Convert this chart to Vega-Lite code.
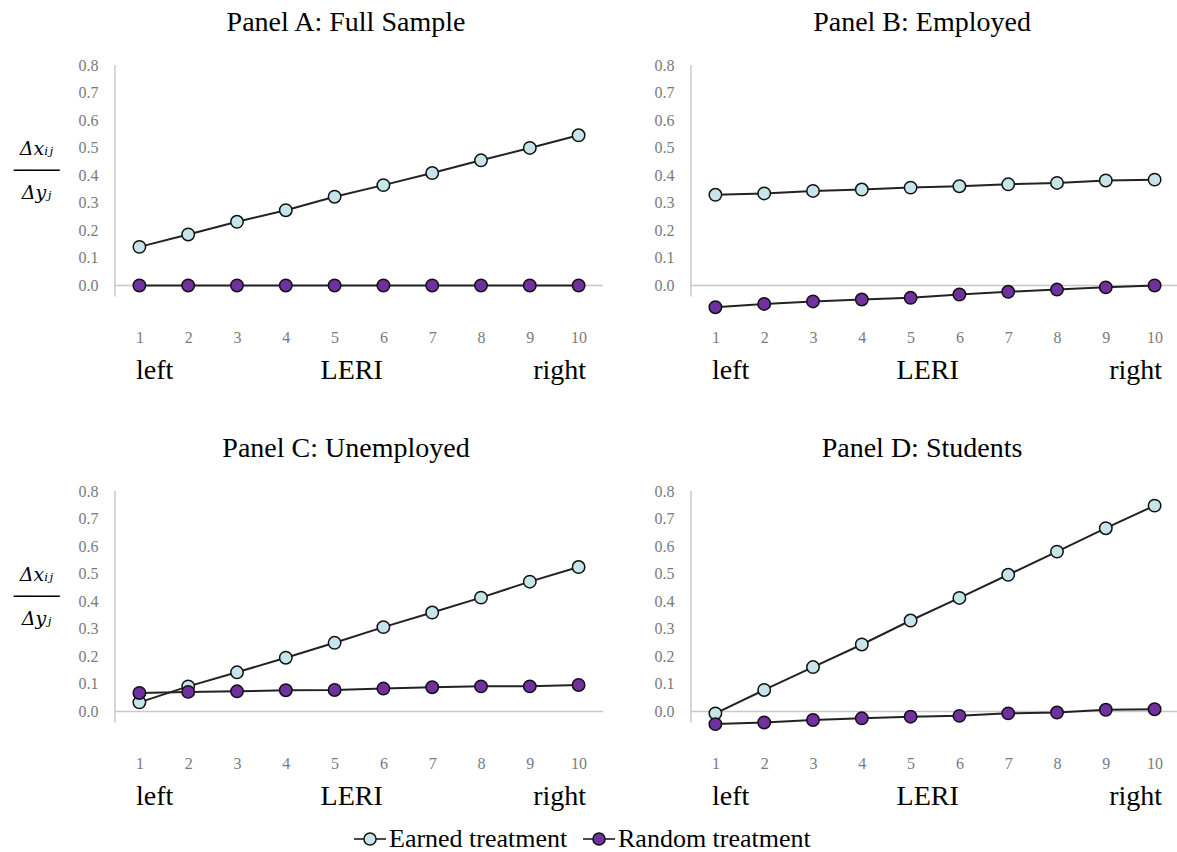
{
  "$schema": "https://vega.github.io/schema/vega-lite/v6.json",
  "padding": {"top": 9, "left": 13, "right": 0, "bottom": 0},
  "background": "white",
  "config": {
    "view": {"stroke": null},
    "font": "Liberation Serif",
    "title": {"font": "Liberation Serif", "fontSize": 28, "fontWeight": "normal", "color": "#000000", "anchor": "middle", "offset": 20, "dx": -13},
    "axis": {"grid": false, "domain": false, "ticks": false, "tickSize": 0, "labelFont": "Liberation Serif", "labelColor": "#7a7a7a", "labelFontSize": 16, "labelOverlap": false},
    "axisY": {"tickCount": 10, "labelExpr": "datum.value < -0.01 ? '' : format(datum.value, '.1f')"},
    "legend": {
      "orient": "none", "legendX": 238, "legendY": 757, "direction": "horizontal",
      "labelFont": "Liberation Serif", "labelFontSize": 26, "labelColor": "#000000", "labelOffset": 2, "labelLimit": 0,
      "symbolType": "M-1,0H-0.38M0.38,0H1M-0.38,0A0.38,0.38,0,1,1,0.38,0A0.38,0.38,0,1,1,-0.38,0Z",
      "symbolSize": 1024, "symbolStrokeColor": "#111111", "symbolStrokeWidth": 1.5, "symbolOpacity": 1,
      "columnPadding": 12, "title": null
    }
  },
  "datasets": {
    "d": [
      {"panel": "A", "series": "Earned treatment", "lev": 1, "val": 0.14},
      {"panel": "A", "series": "Earned treatment", "lev": 2, "val": 0.185},
      {"panel": "A", "series": "Earned treatment", "lev": 3, "val": 0.231},
      {"panel": "A", "series": "Earned treatment", "lev": 4, "val": 0.273},
      {"panel": "A", "series": "Earned treatment", "lev": 5, "val": 0.322},
      {"panel": "A", "series": "Earned treatment", "lev": 6, "val": 0.364},
      {"panel": "A", "series": "Earned treatment", "lev": 7, "val": 0.408},
      {"panel": "A", "series": "Earned treatment", "lev": 8, "val": 0.454},
      {"panel": "A", "series": "Earned treatment", "lev": 9, "val": 0.499},
      {"panel": "A", "series": "Earned treatment", "lev": 10, "val": 0.545},
      {"panel": "A", "series": "Random treatment", "lev": 1, "val": 0.0},
      {"panel": "A", "series": "Random treatment", "lev": 2, "val": 0.0},
      {"panel": "A", "series": "Random treatment", "lev": 3, "val": 0.0},
      {"panel": "A", "series": "Random treatment", "lev": 4, "val": 0.0},
      {"panel": "A", "series": "Random treatment", "lev": 5, "val": 0.0},
      {"panel": "A", "series": "Random treatment", "lev": 6, "val": 0.0},
      {"panel": "A", "series": "Random treatment", "lev": 7, "val": 0.0},
      {"panel": "A", "series": "Random treatment", "lev": 8, "val": 0.0},
      {"panel": "A", "series": "Random treatment", "lev": 9, "val": 0.0},
      {"panel": "A", "series": "Random treatment", "lev": 10, "val": 0.0},
      {"panel": "B", "series": "Earned treatment", "lev": 1, "val": 0.329},
      {"panel": "B", "series": "Earned treatment", "lev": 2, "val": 0.334},
      {"panel": "B", "series": "Earned treatment", "lev": 3, "val": 0.343},
      {"panel": "B", "series": "Earned treatment", "lev": 4, "val": 0.348},
      {"panel": "B", "series": "Earned treatment", "lev": 5, "val": 0.355},
      {"panel": "B", "series": "Earned treatment", "lev": 6, "val": 0.36},
      {"panel": "B", "series": "Earned treatment", "lev": 7, "val": 0.367},
      {"panel": "B", "series": "Earned treatment", "lev": 8, "val": 0.372},
      {"panel": "B", "series": "Earned treatment", "lev": 9, "val": 0.381},
      {"panel": "B", "series": "Earned treatment", "lev": 10, "val": 0.384},
      {"panel": "B", "series": "Random treatment", "lev": 1, "val": -0.079},
      {"panel": "B", "series": "Random treatment", "lev": 2, "val": -0.067},
      {"panel": "B", "series": "Random treatment", "lev": 3, "val": -0.058},
      {"panel": "B", "series": "Random treatment", "lev": 4, "val": -0.051},
      {"panel": "B", "series": "Random treatment", "lev": 5, "val": -0.045},
      {"panel": "B", "series": "Random treatment", "lev": 6, "val": -0.033},
      {"panel": "B", "series": "Random treatment", "lev": 7, "val": -0.023},
      {"panel": "B", "series": "Random treatment", "lev": 8, "val": -0.015},
      {"panel": "B", "series": "Random treatment", "lev": 9, "val": -0.007},
      {"panel": "B", "series": "Random treatment", "lev": 10, "val": 0.0},
      {"panel": "C", "series": "Earned treatment", "lev": 1, "val": 0.033},
      {"panel": "C", "series": "Earned treatment", "lev": 2, "val": 0.091},
      {"panel": "C", "series": "Earned treatment", "lev": 3, "val": 0.142},
      {"panel": "C", "series": "Earned treatment", "lev": 4, "val": 0.195},
      {"panel": "C", "series": "Earned treatment", "lev": 5, "val": 0.249},
      {"panel": "C", "series": "Earned treatment", "lev": 6, "val": 0.306},
      {"panel": "C", "series": "Earned treatment", "lev": 7, "val": 0.359},
      {"panel": "C", "series": "Earned treatment", "lev": 8, "val": 0.413},
      {"panel": "C", "series": "Earned treatment", "lev": 9, "val": 0.471},
      {"panel": "C", "series": "Earned treatment", "lev": 10, "val": 0.524},
      {"panel": "C", "series": "Random treatment", "lev": 1, "val": 0.067},
      {"panel": "C", "series": "Random treatment", "lev": 2, "val": 0.071},
      {"panel": "C", "series": "Random treatment", "lev": 3, "val": 0.073},
      {"panel": "C", "series": "Random treatment", "lev": 4, "val": 0.077},
      {"panel": "C", "series": "Random treatment", "lev": 5, "val": 0.078},
      {"panel": "C", "series": "Random treatment", "lev": 6, "val": 0.083},
      {"panel": "C", "series": "Random treatment", "lev": 7, "val": 0.088},
      {"panel": "C", "series": "Random treatment", "lev": 8, "val": 0.091},
      {"panel": "C", "series": "Random treatment", "lev": 9, "val": 0.091},
      {"panel": "C", "series": "Random treatment", "lev": 10, "val": 0.096},
      {"panel": "D", "series": "Earned treatment", "lev": 1, "val": -0.007},
      {"panel": "D", "series": "Earned treatment", "lev": 2, "val": 0.078},
      {"panel": "D", "series": "Earned treatment", "lev": 3, "val": 0.161},
      {"panel": "D", "series": "Earned treatment", "lev": 4, "val": 0.243},
      {"panel": "D", "series": "Earned treatment", "lev": 5, "val": 0.33},
      {"panel": "D", "series": "Earned treatment", "lev": 6, "val": 0.412},
      {"panel": "D", "series": "Earned treatment", "lev": 7, "val": 0.496},
      {"panel": "D", "series": "Earned treatment", "lev": 8, "val": 0.58},
      {"panel": "D", "series": "Earned treatment", "lev": 9, "val": 0.665},
      {"panel": "D", "series": "Earned treatment", "lev": 10, "val": 0.747},
      {"panel": "D", "series": "Random treatment", "lev": 1, "val": -0.046},
      {"panel": "D", "series": "Random treatment", "lev": 2, "val": -0.04},
      {"panel": "D", "series": "Random treatment", "lev": 3, "val": -0.031},
      {"panel": "D", "series": "Random treatment", "lev": 4, "val": -0.025},
      {"panel": "D", "series": "Random treatment", "lev": 5, "val": -0.019},
      {"panel": "D", "series": "Random treatment", "lev": 6, "val": -0.016},
      {"panel": "D", "series": "Random treatment", "lev": 7, "val": -0.007},
      {"panel": "D", "series": "Random treatment", "lev": 8, "val": -0.004},
      {"panel": "D", "series": "Random treatment", "lev": 9, "val": 0.006},
      {"panel": "D", "series": "Random treatment", "lev": 10, "val": 0.008}
    ]
  },
  "resolve": {"scale": {"fill": "shared"}, "legend": {"fill": "shared"}},
  "spacing": 51,
  "vconcat": [
    {
      "spacing": 50,
      "hconcat": [
        {
          "title": "Panel A: Full Sample",
          "width": 488, "height": 248,
          "resolve": {"axis": {"x": "independent"}},
          "layer": [
            {"data": {"values": [{"z": 0}]}, "mark": {"type": "rule", "color": "#c8c8c8", "strokeWidth": 1.5}, "encoding": {"y": {"field": "z", "type": "quantitative", "scale": {"domain": [-0.1, 0.8], "nice": false}, "axis": {"title": ["Δxᵢⱼ", "────", "Δyⱼ"], "titleAngle": 0, "titleFont": "DejaVu Serif", "titleFontSize": 19, "titleFontStyle": "italic", "titleFontWeight": "normal", "titleColor": "#000000", "titleLineHeight": 22, "titleAlign": "center", "titleBaseline": "middle", "titleX": -79, "titleY": 83, "values": [0, 0.1, 0.2, 0.3, 0.4, 0.5, 0.6, 0.7, 0.8], "labelPadding": 17, "labelOverlap": false}}}},
            {"data": {"values": [{"x": 0.5, "y": 0.8, "y2": -0.04}]}, "mark": {"type": "rule", "color": "#c8c8c8", "strokeWidth": 1.5},
             "encoding": {
               "x": {"field": "x", "type": "quantitative", "scale": {"domain": [0.5, 10.5], "nice": false, "zero": false},
                     "axis": {"orient": "bottom", "title": null, "values": [0.92, 5.34, 9.6], "labelExpr": "datum.value < 2 ? 'left' : datum.value > 9 ? 'right' : 'LERI'", "labelAlign": {"condition": {"test": "datum.value < 2", "value": "left"}, "value": "center"}, "labelFontSize": 28, "labelColor": "#000000", "labelPadding": 43, "labelOverlap": false, "labelFlush": false, "labelBound": false}},
               "y": {"field": "y", "type": "quantitative"}, "y2": {"field": "y2"}}},
            {"data": {"name": "d"}, "transform": [{"filter": "datum.panel == 'A'"}],
             "mark": {"type": "line", "color": "#222222", "strokeWidth": 2},
             "encoding": {
               "x": {"field": "lev", "type": "quantitative", "axis": {"orient": "bottom", "title": null, "values": [1,2,3,4,5,6,7,8,9,10], "format": "d", "labelPadding": 16, "labelFlush": false, "labelOverlap": false}},
               "y": {"field": "val", "type": "quantitative"},
               "detail": {"field": "series"}}},
            {"data": {"name": "d"}, "transform": [{"filter": "datum.panel == 'A'"}],
             "mark": {"type": "circle", "size": 155, "stroke": "#111111", "strokeWidth": 1.5, "opacity": 1},
             "encoding": {
               "x": {"field": "lev", "type": "quantitative", "axis": null},
               "y": {"field": "val", "type": "quantitative"},
               "fill": {"field": "series", "type": "nominal", "scale": {"domain": ["Earned treatment", "Random treatment"], "range": ["#c6e5ea", "#7030a0"]}, "legend": {"title": null}}}}
          ]
        },
        {
          "title": "Panel B: Employed",
          "width": 488, "height": 248,
          "resolve": {"axis": {"x": "independent"}},
          "layer": [
            {"data": {"values": [{"z": 0}]}, "mark": {"type": "rule", "color": "#c8c8c8", "strokeWidth": 1.5}, "encoding": {"y": {"field": "z", "type": "quantitative", "scale": {"domain": [-0.1, 0.8], "nice": false}, "axis": {"title": null, "values": [0, 0.1, 0.2, 0.3, 0.4, 0.5, 0.6, 0.7, 0.8], "labelPadding": 17, "labelOverlap": false}}}},
            {"data": {"values": [{"x": 0.5, "y": 0.8, "y2": -0.04}]}, "mark": {"type": "rule", "color": "#c8c8c8", "strokeWidth": 1.5},
             "encoding": {
               "x": {"field": "x", "type": "quantitative", "scale": {"domain": [0.5, 10.5], "nice": false, "zero": false},
                     "axis": {"orient": "bottom", "title": null, "values": [0.92, 5.34, 9.6], "labelExpr": "datum.value < 2 ? 'left' : datum.value > 9 ? 'right' : 'LERI'", "labelAlign": {"condition": {"test": "datum.value < 2", "value": "left"}, "value": "center"}, "labelFontSize": 28, "labelColor": "#000000", "labelPadding": 43, "labelOverlap": false, "labelFlush": false, "labelBound": false}},
               "y": {"field": "y", "type": "quantitative"}, "y2": {"field": "y2"}}},
            {"data": {"name": "d"}, "transform": [{"filter": "datum.panel == 'B'"}],
             "mark": {"type": "line", "color": "#222222", "strokeWidth": 2},
             "encoding": {
               "x": {"field": "lev", "type": "quantitative", "axis": {"orient": "bottom", "title": null, "values": [1,2,3,4,5,6,7,8,9,10], "format": "d", "labelPadding": 16, "labelFlush": false, "labelOverlap": false}},
               "y": {"field": "val", "type": "quantitative"},
               "detail": {"field": "series"}}},
            {"data": {"name": "d"}, "transform": [{"filter": "datum.panel == 'B'"}],
             "mark": {"type": "circle", "size": 155, "stroke": "#111111", "strokeWidth": 1.5, "opacity": 1},
             "encoding": {
               "x": {"field": "lev", "type": "quantitative", "axis": null},
               "y": {"field": "val", "type": "quantitative"},
               "fill": {"field": "series", "type": "nominal", "scale": {"domain": ["Earned treatment", "Random treatment"], "range": ["#c6e5ea", "#7030a0"]}, "legend": {"title": null}}}}
          ]
        }
      ]
    },
    {
      "spacing": 50,
      "hconcat": [
        {
          "title": "Panel C: Unemployed",
          "width": 488, "height": 248,
          "resolve": {"axis": {"x": "independent"}},
          "layer": [
            {"data": {"values": [{"z": 0}]}, "mark": {"type": "rule", "color": "#c8c8c8", "strokeWidth": 1.5}, "encoding": {"y": {"field": "z", "type": "quantitative", "scale": {"domain": [-0.1, 0.8], "nice": false}, "axis": {"title": ["Δxᵢⱼ", "────", "Δyⱼ"], "titleAngle": 0, "titleFont": "DejaVu Serif", "titleFontSize": 19, "titleFontStyle": "italic", "titleFontWeight": "normal", "titleColor": "#000000", "titleLineHeight": 22, "titleAlign": "center", "titleBaseline": "middle", "titleX": -79, "titleY": 83, "values": [0, 0.1, 0.2, 0.3, 0.4, 0.5, 0.6, 0.7, 0.8], "labelPadding": 17, "labelOverlap": false}}}},
            {"data": {"values": [{"x": 0.5, "y": 0.8, "y2": -0.04}]}, "mark": {"type": "rule", "color": "#c8c8c8", "strokeWidth": 1.5},
             "encoding": {
               "x": {"field": "x", "type": "quantitative", "scale": {"domain": [0.5, 10.5], "nice": false, "zero": false},
                     "axis": {"orient": "bottom", "title": null, "values": [0.92, 5.34, 9.6], "labelExpr": "datum.value < 2 ? 'left' : datum.value > 9 ? 'right' : 'LERI'", "labelAlign": {"condition": {"test": "datum.value < 2", "value": "left"}, "value": "center"}, "labelFontSize": 28, "labelColor": "#000000", "labelPadding": 43, "labelOverlap": false, "labelFlush": false, "labelBound": false}},
               "y": {"field": "y", "type": "quantitative"}, "y2": {"field": "y2"}}},
            {"data": {"name": "d"}, "transform": [{"filter": "datum.panel == 'C'"}],
             "mark": {"type": "line", "color": "#222222", "strokeWidth": 2},
             "encoding": {
               "x": {"field": "lev", "type": "quantitative", "axis": {"orient": "bottom", "title": null, "values": [1,2,3,4,5,6,7,8,9,10], "format": "d", "labelPadding": 16, "labelFlush": false, "labelOverlap": false}},
               "y": {"field": "val", "type": "quantitative"},
               "detail": {"field": "series"}}},
            {"data": {"name": "d"}, "transform": [{"filter": "datum.panel == 'C'"}],
             "mark": {"type": "circle", "size": 155, "stroke": "#111111", "strokeWidth": 1.5, "opacity": 1},
             "encoding": {
               "x": {"field": "lev", "type": "quantitative", "axis": null},
               "y": {"field": "val", "type": "quantitative"},
               "fill": {"field": "series", "type": "nominal", "scale": {"domain": ["Earned treatment", "Random treatment"], "range": ["#c6e5ea", "#7030a0"]}, "legend": {"title": null}}}}
          ]
        },
        {
          "title": "Panel D: Students",
          "width": 488, "height": 248,
          "resolve": {"axis": {"x": "independent"}},
          "layer": [
            {"data": {"values": [{"z": 0}]}, "mark": {"type": "rule", "color": "#c8c8c8", "strokeWidth": 1.5}, "encoding": {"y": {"field": "z", "type": "quantitative", "scale": {"domain": [-0.1, 0.8], "nice": false}, "axis": {"title": null, "values": [0, 0.1, 0.2, 0.3, 0.4, 0.5, 0.6, 0.7, 0.8], "labelPadding": 17, "labelOverlap": false}}}},
            {"data": {"values": [{"x": 0.5, "y": 0.8, "y2": -0.04}]}, "mark": {"type": "rule", "color": "#c8c8c8", "strokeWidth": 1.5},
             "encoding": {
               "x": {"field": "x", "type": "quantitative", "scale": {"domain": [0.5, 10.5], "nice": false, "zero": false},
                     "axis": {"orient": "bottom", "title": null, "values": [0.92, 5.34, 9.6], "labelExpr": "datum.value < 2 ? 'left' : datum.value > 9 ? 'right' : 'LERI'", "labelAlign": {"condition": {"test": "datum.value < 2", "value": "left"}, "value": "center"}, "labelFontSize": 28, "labelColor": "#000000", "labelPadding": 43, "labelOverlap": false, "labelFlush": false, "labelBound": false}},
               "y": {"field": "y", "type": "quantitative"}, "y2": {"field": "y2"}}},
            {"data": {"name": "d"}, "transform": [{"filter": "datum.panel == 'D'"}],
             "mark": {"type": "line", "color": "#222222", "strokeWidth": 2},
             "encoding": {
               "x": {"field": "lev", "type": "quantitative", "axis": {"orient": "bottom", "title": null, "values": [1,2,3,4,5,6,7,8,9,10], "format": "d", "labelPadding": 16, "labelFlush": false, "labelOverlap": false}},
               "y": {"field": "val", "type": "quantitative"},
               "detail": {"field": "series"}}},
            {"data": {"name": "d"}, "transform": [{"filter": "datum.panel == 'D'"}],
             "mark": {"type": "circle", "size": 155, "stroke": "#111111", "strokeWidth": 1.5, "opacity": 1},
             "encoding": {
               "x": {"field": "lev", "type": "quantitative", "axis": null},
               "y": {"field": "val", "type": "quantitative"},
               "fill": {"field": "series", "type": "nominal", "scale": {"domain": ["Earned treatment", "Random treatment"], "range": ["#c6e5ea", "#7030a0"]}, "legend": {"title": null}}}}
          ]
        }
      ]
    }
  ]
}
